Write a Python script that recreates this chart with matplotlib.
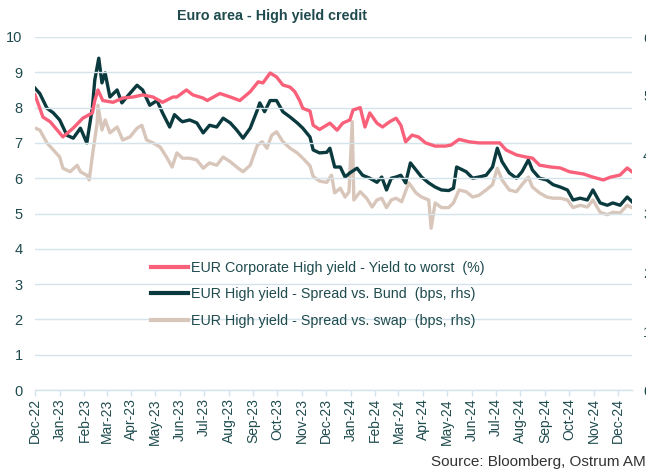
import matplotlib
matplotlib.use("Agg")
import matplotlib.pyplot as plt
import matplotlib.dates as mdates
from matplotlib import font_manager
import pandas as pd

# ---------------- data ----------------
ytw_dates = ["2022-12-01","2022-12-11","2022-12-20","2023-01-01","2023-01-05","2023-01-18","2023-01-30",
             "2023-02-11","2023-02-14","2023-02-18","2023-02-24","2023-03-09","2023-03-21","2023-04-03",
             "2023-04-15","2023-04-28","2023-05-10","2023-05-23","2023-05-28","2023-06-09","2023-06-17",
             "2023-06-30","2023-07-05","2023-07-21","2023-08-03","2023-08-15","2023-08-28","2023-09-07",
             "2023-09-13","2023-09-22","2023-09-30","2023-10-08","2023-10-17","2023-10-23","2023-10-29",
             "2023-11-02","2023-11-11","2023-11-15","2023-11-23","2023-12-06","2023-12-15","2023-12-22",
             "2023-12-31","2024-01-04","2024-01-13","2024-01-19","2024-01-25","2024-02-03","2024-02-10",
             "2024-02-19","2024-02-27","2024-03-04","2024-03-10","2024-03-18","2024-03-26","2024-04-04",
             "2024-04-16","2024-04-29","2024-05-06","2024-05-16","2024-05-29","2024-06-10","2024-06-23",
             "2024-07-06","2024-07-14","2024-07-27","2024-08-08","2024-08-16","2024-08-25","2024-09-07",
             "2024-09-20","2024-10-02","2024-10-19","2024-10-31","2024-11-13","2024-11-22","2024-12-04",
             "2024-12-13","2024-12-19"]
ytw_values = [8.36,7.73,7.60,7.28,7.17,7.42,7.70,
              7.85,8.20,8.50,8.20,8.15,8.27,8.30,
              8.36,8.30,8.15,8.30,8.30,8.50,8.36,
              8.27,8.20,8.40,8.30,8.20,8.45,8.73,
              8.70,8.98,8.87,8.64,8.58,8.45,8.20,
              7.98,7.90,7.50,7.38,7.56,7.36,7.56,
              7.65,7.93,8.00,7.45,7.85,7.56,7.45,
              7.60,7.70,7.50,7.03,7.22,7.17,7.00,
              6.91,6.91,6.94,7.10,7.03,7.00,7.00,
              7.00,6.80,6.66,6.60,6.57,6.37,6.32,
              6.29,6.18,6.12,6.03,5.95,6.03,6.09,
              6.29,6.18]

bund_dates = ["2022-12-01","2022-12-07","2022-12-16","2022-12-24","2023-01-01","2023-01-10","2023-01-18",
              "2023-01-27","2023-02-04","2023-02-11","2023-02-14","2023-02-19","2023-02-23","2023-02-27",
              "2023-03-05","2023-03-14","2023-03-20","2023-03-30","2023-04-08","2023-04-15","2023-04-24",
              "2023-05-03","2023-05-10","2023-05-19","2023-05-25","2023-06-01","2023-06-04","2023-06-13",
              "2023-06-22","2023-06-30","2023-07-08","2023-07-17","2023-07-25","2023-08-03","2023-08-11",
              "2023-08-19","2023-08-28","2023-09-06","2023-09-09","2023-09-15","2023-09-22","2023-09-30",
              "2023-10-08","2023-10-17","2023-10-26","2023-11-02","2023-11-11","2023-11-15","2023-11-23",
              "2023-12-02","2023-12-06","2023-12-12","2023-12-19","2023-12-25","2023-12-31","2024-01-09",
              "2024-01-16","2024-01-25","2024-02-03","2024-02-09","2024-02-15","2024-02-21","2024-02-27",
              "2024-03-04","2024-03-10","2024-03-16","2024-03-23","2024-03-30","2024-04-08","2024-04-16",
              "2024-04-24","2024-05-03","2024-05-09","2024-05-13","2024-05-16","2024-05-25","2024-06-02",
              "2024-06-10","2024-06-19","2024-06-27","2024-07-03","2024-07-09","2024-07-18","2024-07-27",
              "2024-08-03","2024-08-11","2024-08-16","2024-08-25","2024-09-03","2024-09-11","2024-09-20",
              "2024-09-29","2024-10-06","2024-10-15","2024-10-24","2024-10-31","2024-11-09","2024-11-18",
              "2024-11-25","2024-12-04","2024-12-13","2024-12-19"]
bund_values = [513,504,479,471,459,433,428,
               445,420,480,527,564,522,539,
               498,510,488,504,518,510,484,
               492,471,447,468,459,456,459,
               454,437,450,447,462,454,442,
               428,445,476,488,473,492,492,
               473,464,454,445,430,408,403,
               404,411,379,379,362,369,377,
               365,360,353,362,340,360,362,
               365,352,386,374,362,352,345,
               340,339,343,379,377,371,360,
               362,365,379,411,388,369,360,
               371,391,374,360,357,349,345,
               340,323,326,323,340,318,314,
               318,314,328,320]

swap_dates = ["2022-12-01","2022-12-07","2022-12-16","2022-12-24","2023-01-01","2023-01-05","2023-01-14",
              "2023-01-23","2023-01-27","2023-02-04","2023-02-07","2023-02-12","2023-02-17","2023-02-18",
              "2023-02-23","2023-02-27","2023-03-05","2023-03-14","2023-03-21","2023-03-30","2023-04-08",
              "2023-04-14","2023-04-20","2023-04-28","2023-05-07","2023-05-15","2023-05-22","2023-05-28",
              "2023-06-04","2023-06-13","2023-06-22","2023-06-30","2023-07-08","2023-07-17","2023-07-25",
              "2023-08-03","2023-08-11","2023-08-19","2023-08-28","2023-09-06","2023-09-12","2023-09-18",
              "2023-09-24","2023-09-30","2023-10-08","2023-10-17","2023-10-26","2023-11-02","2023-11-11",
              "2023-11-15","2023-11-23","2023-12-02","2023-12-08","2023-12-12","2023-12-19","2023-12-25",
              "2023-12-30","2024-01-03","2024-01-05","2024-01-13","2024-01-21","2024-01-28","2024-02-03",
              "2024-02-09","2024-02-15","2024-02-21","2024-02-27","2024-03-05","2024-03-14","2024-03-23",
              "2024-03-30","2024-04-08","2024-04-11","2024-04-16","2024-04-24","2024-05-03","2024-05-09",
              "2024-05-16","2024-05-25","2024-06-02","2024-06-10","2024-06-19","2024-06-27","2024-07-03",
              "2024-07-09","2024-07-18","2024-07-27","2024-08-03","2024-08-11","2024-08-16","2024-08-25",
              "2024-09-03","2024-09-11","2024-09-20","2024-09-29","2024-10-06","2024-10-15","2024-10-24",
              "2024-10-31","2024-11-09","2024-11-18","2024-11-25","2024-12-04","2024-12-13","2024-12-19"]
swap_values = [445,442,420,408,396,377,371,
               382,371,365,357,408,454,484,
               442,459,437,447,425,430,445,
               450,425,420,413,396,379,403,
               394,394,391,377,386,382,396,
               388,379,371,382,416,422,411,
               433,439,422,411,403,394,381,
               363,355,353,365,335,343,328,
               337,456,323,337,326,311,323,
               326,310,323,326,320,352,335,
               328,323,275,318,310,310,318,
               340,337,328,331,340,349,377,
               357,340,337,349,362,345,335,
               328,326,326,323,310,314,311,
               323,302,298,302,301,314,310]

series_labels = ["EUR Corporate High yield - Yield to worst  (%)",
                 "EUR High yield - Spread vs. Bund  (bps, rhs)",
                 "EUR High yield - Spread vs. swap  (bps, rhs)"]
left_ticks = list(range(0, 11))
right_ticks = list(range(0, 700, 100))

# ---------------- style ----------------
RED = "#f9607a"
DARK = "#0b3a3e"
BEIGE = "#d8c6ba"
GRID = "#d5e3eb"
TXT = "#1f4b4e"

plt.rcParams["font.family"] = ["Liberation Sans", "DejaVu Sans"]

installed = {f.name for f in font_manager.fontManager.ttflist}
if "Liberation Sans Narrow" in installed:
    title_family, title_size = ["Liberation Sans Narrow", "Liberation Sans"], 12.5
else:
    title_family, title_size = ["Liberation Sans", "DejaVu Sans"], 10.3

fig = plt.figure(figsize=(6.46, 4.71), dpi=100)
ax = fig.add_axes([35/646, 1-390/471, (632-35)/646, (390-37)/471])
ax2 = ax.twinx()

ax.set_zorder(ax2.get_zorder() + 1)
ax.patch.set_visible(False)

d_ytw = pd.to_datetime(ytw_dates)
d_bund = pd.to_datetime(bund_dates)
d_swap = pd.to_datetime(swap_dates)

l3, = ax2.plot(d_swap, swap_values, color=BEIGE, lw=2.4, solid_joinstyle="round", label=series_labels[2])
l2, = ax2.plot(d_bund, bund_values, color=DARK, lw=2.4, solid_joinstyle="round", label=series_labels[1])
l1, = ax.plot(d_ytw, ytw_values, color=RED, lw=2.4, solid_joinstyle="round", label=series_labels[0])

ax.set_ylim(0, 10)
ax2.set_ylim(0, 600)
ax.set_yticks(left_ticks)
ax2.set_yticks(right_ticks)

ax.set_xlim(pd.Timestamp("2022-12-01"), pd.Timestamp("2024-12-19"))
ax.xaxis.set_major_locator(mdates.MonthLocator())
ax.xaxis.set_major_formatter(mdates.DateFormatter("%b-%y"))

ax.grid(axis="y", color=GRID, lw=1.0)
ax.set_axisbelow(True)
for a in (ax, ax2):
    for s in a.spines.values():
        s.set_visible(False)
ax.spines["bottom"].set_visible(True)
ax.spines["bottom"].set_color(GRID)
ax.spines["bottom"].set_linewidth(1.0)

ax.tick_params(axis="y", length=0, pad=9, labelsize=10.5, labelcolor=TXT)
ax2.tick_params(axis="y", length=0, pad=8, labelsize=10.5, labelcolor=TXT)
ax.tick_params(axis="x", length=4, color=GRID, width=1, pad=2, labelsize=10, labelcolor=TXT,
               labelrotation=90)

leg = ax.legend(handles=[l1, l2, l3], loc="upper left", bbox_to_anchor=(0.184, 0.382),
                frameon=False, fontsize=10.3, handlelength=2.6, handletextpad=0.2,
                labelspacing=0.88, borderaxespad=0)
for t in leg.get_texts():
    t.set_color(TXT)
for h in leg.get_lines():
    h.set_linewidth(3)

fig.text(272/646, 1-16/471, "Euro area - High yield credit", ha="center", va="center",
         fontsize=title_size, fontweight="bold", color=TXT, family=title_family)
fig.text(1.0, 1-462/471, "Source: Bloomberg, Ostrum AM", ha="right", va="center",
         fontsize=11, color="#333333")

fig.savefig("out.png", dpi=100)
